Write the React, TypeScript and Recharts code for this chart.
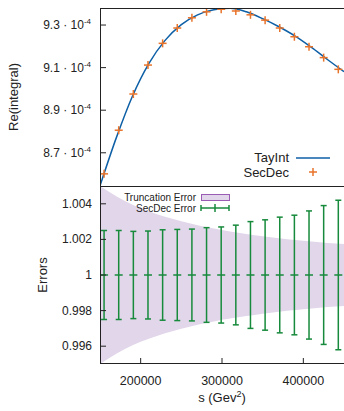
import { ComposedChart, Line, Scatter, Area, XAxis, YAxis, ErrorBar } from "recharts";

const FONT = "'Liberation Sans', Arial, Helvetica, sans-serif";
const INK = "#222";

// SecDec points (s in GeV^2, Re(integral))
const secS = [155000, 173000, 191000, 209000, 227000, 245000, 263000, 281000, 299000, 317000, 335000, 353000, 371000, 389000, 407000, 425000, 443000];
const secRe = [8.601e-4, 8.806e-4, 8.976e-4, 9.112e-4, 9.214e-4, 9.286e-4, 9.334e-4, 9.362e-4, 9.374e-4, 9.366e-4, 9.348e-4, 9.323e-4, 9.286e-4, 9.245e-4, 9.198e-4, 9.147e-4, 9.092e-4];
const secErr = [0.0025, 0.0025, 0.00245, 0.00247, 0.00254, 0.00256, 0.00258, 0.00266, 0.0027, 0.0028, 0.003, 0.0031, 0.00325, 0.00336, 0.0036, 0.0039, 0.0042];

// TayInt curve
const tayS = [150000, 170000, 190000, 210000, 230000, 250000, 270000, 290000, 310000, 330000, 350000, 370000, 390000, 410000, 430000, 450000];
const tayRe = [8.545e-4, 8.77e-4, 8.967e-4, 9.119e-4, 9.228e-4, 9.302e-4, 9.348e-4, 9.372e-4, 9.379e-4, 9.362e-4, 9.33e-4, 9.292e-4, 9.248e-4, 9.195e-4, 9.137e-4, 9.081e-4];

// truncation error band (relative half width)
const truncS = [150000, 170000, 190000, 210000, 230000, 250000, 270000, 290000, 310000, 330000, 350000, 370000, 390000, 410000, 430000, 450000];
const truncErr = [0.005, 0.00443, 0.00395, 0.00358, 0.00327, 0.00302, 0.0028, 0.00261, 0.00245, 0.00231, 0.00218, 0.00207, 0.00197, 0.00188, 0.0018, 0.00174];

const xDomain = [150000, 450000];
const topXTicks = [200000, 250000, 300000, 350000, 400000];
const botXTicks = [200000, 300000, 400000];
const topYTicks = [8.7e-4, 8.9e-4, 9.1e-4, 9.3e-4];
const botYTicks = [0.996, 0.998, 1, 1.002, 1.004];

const tayData = tayS.map((s, i) => ({ s, y: tayRe[i] }));
const secData = secS.map((s, i) => ({ s, y: secRe[i] }));
const errData = secS.map((s, i) => ({ s, y: 1, err: secErr[i] }));
const bandData = truncS.map((s, i) => ({ s, band: [1 - truncErr[i], 1 + truncErr[i]] }));

const GREEN = "#178a3c";
const ORANGE = "#e8732a";
const BLUE = "#0d5fa6";
const BAND = "#e2d6ea";

// ticks point into the plot; dir=-1 draws upward
const XTick = (props: any) => {
  const { x, y, payload, dir, len, showLabel } = props;
  return (
    <g>
      <line x1={x} x2={x} y1={y} y2={y + dir * len} stroke={INK} strokeWidth={1} />
      {showLabel && (
        <text x={x} y={y + 21} textAnchor="middle" fontSize={12.5} fill={INK} fontFamily={FONT}>
          {payload.value}
        </text>
      )}
    </g>
  );
};

const YTick = (props: any) => {
  const { x, y, payload, dir, len, kind } = props;
  let label: any = null;
  if (kind === "sci") {
    label = (
      <text x={x - 9} y={y + 4} textAnchor="end" fontSize={12} fill={INK} fontFamily={FONT}>
        {(payload.value * 1e4).toFixed(1)} · 10
        <tspan dy={-5} fontSize={8}>-4</tspan>
      </text>
    );
  } else if (kind === "plain") {
    label = (
      <text x={x - 8} y={y + 4} textAnchor="end" fontSize={12} fill={INK} fontFamily={FONT}>
        {String(Math.round(payload.value * 1000) / 1000)}
      </text>
    );
  }
  return (
    <g>
      <line x1={x} x2={x + dir * len} y1={y} y2={y} stroke={INK} strokeWidth={1} />
      {label}
    </g>
  );
};

const Plus = (props: any) => {
  const { cx, cy } = props;
  return (
    <g stroke={ORANGE} strokeWidth={1.5}>
      <line x1={cx - 4} x2={cx + 4} y1={cy} y2={cy} />
      <line x1={cx} x2={cx} y1={cy - 4} y2={cy + 4} />
    </g>
  );
};

const CenterTick = (props: any) => {
  const { cx, cy } = props;
  return <line x1={cx - 4} x2={cx + 4} y1={cy} y2={cy} stroke={GREEN} strokeWidth={1.5} />;
};

export default function App() {
  return (
    <div style={{ position: "absolute", left: 0, top: 0, width: 344, height: 411, overflow: "hidden", background: "#fff" }}>
      <div style={{ position: "absolute", left: 0, top: 0 }}>
        <ComposedChart width={346} height={186} data={tayData} margin={{ top: 8, right: 2, bottom: 0, left: 0 }}>
          <Line xAxisId="b" yAxisId="l" type="monotone" dataKey="y" stroke={BLUE} strokeWidth={1.5} dot={false} isAnimationActive={false} />
          <Scatter xAxisId="b" yAxisId="l" data={secData} dataKey="y" shape={<Plus />} isAnimationActive={false} />
          <XAxis xAxisId="b" type="number" dataKey="s" domain={xDomain} allowDataOverflow ticks={topXTicks} interval={0} height={0} tickSize={0} tickMargin={0} axisLine={false} tickLine={false} tick={<XTick dir={-1} len={6} />} />
          <XAxis xAxisId="t" orientation="top" type="number" dataKey="s" domain={xDomain} allowDataOverflow ticks={topXTicks} interval={0} height={0} tickSize={0} tickMargin={0} axisLine={false} tickLine={false} tick={<XTick dir={1} len={6} />} />
          <YAxis yAxisId="l" type="number" domain={[8.544e-4, 9.38e-4]} allowDataOverflow ticks={topYTicks} interval={0} width={100} tickSize={0} tickMargin={0} axisLine={false} tickLine={false} tick={<YTick dir={1} len={6} kind="sci" />} />
          <YAxis yAxisId="r" orientation="right" type="number" domain={[8.544e-4, 9.38e-4]} allowDataOverflow ticks={topYTicks} interval={0} width={0} tickSize={0} tickMargin={0} axisLine={false} tickLine={false} tick={<YTick dir={-1} len={6} kind="none" />} />
        </ComposedChart>
      </div>
      <div style={{ position: "absolute", left: 0, top: 186 }}>
        <ComposedChart width={346} height={225} data={bandData} margin={{ top: 0, right: 2, bottom: 0, left: 0 }}>
          <Area xAxisId="b" yAxisId="l" type="monotone" dataKey="band" stroke="none" fill={BAND} fillOpacity={1} isAnimationActive={false} />
          <Scatter xAxisId="b" yAxisId="l" data={errData} dataKey="y" shape={<CenterTick />} isAnimationActive={false}>
            <ErrorBar dataKey="err" direction="y" width={3} stroke={GREEN} strokeWidth={1.5} />
          </Scatter>
          <XAxis xAxisId="b" type="number" dataKey="s" domain={xDomain} allowDataOverflow ticks={botXTicks} interval={0} height={47} tickSize={0} tickMargin={0} axisLine={false} tickLine={false} tick={<XTick dir={-1} len={6} showLabel />} />
          <XAxis xAxisId="t" orientation="top" type="number" dataKey="s" domain={xDomain} allowDataOverflow ticks={botXTicks} interval={0} height={0} tickSize={0} tickMargin={0} axisLine={false} tickLine={false} tick={<XTick dir={1} len={6} />} />
          <YAxis yAxisId="l" type="number" domain={[0.995, 1.005]} allowDataOverflow ticks={botYTicks} interval={0} width={100} tickSize={0} tickMargin={0} axisLine={false} tickLine={false} tick={<YTick dir={1} len={6} kind="plain" />} />
          <YAxis yAxisId="r" orientation="right" type="number" domain={[0.995, 1.005]} allowDataOverflow ticks={botYTicks} interval={0} width={0} tickSize={0} tickMargin={0} axisLine={false} tickLine={false} tick={<YTick dir={-1} len={6} kind="none" />} />
        </ComposedChart>
      </div>
      <svg width={344} height={411} style={{ position: "absolute", left: 0, top: 0, pointerEvents: "none" }} fontFamily={FONT}>
        <rect x={100.5} y={8.5} width={244} height={355} fill="none" stroke={INK} strokeWidth={1} />
        <line x1={100} x2={344} y1={186.5} y2={186.5} stroke={INK} strokeWidth={1} />
        <text transform="translate(17.5,97) rotate(-90)" textAnchor="middle" fontSize={13} fill={INK}>Re(integral)</text>
        <text transform="translate(47,275) rotate(-90)" textAnchor="middle" fontSize={13} fill={INK}>Errors</text>
        <text x={222} y={402} textAnchor="middle" fontSize={13} fill={INK}>
          s (Gev<tspan dy={-5} fontSize={9}>2</tspan><tspan dy={5}>)</tspan>
        </text>
        <text x={289} y={162} textAnchor="end" fontSize={13} fill={INK}>TayInt</text>
        <line x1={296} x2={330} y1={158} y2={158} stroke={BLUE} strokeWidth={1.5} />
        <text x={289} y={177} textAnchor="end" fontSize={13} fill={INK}>SecDec</text>
        <g stroke={ORANGE} strokeWidth={1.5}>
          <line x1={309} x2={317} y1={172} y2={172} />
          <line x1={313} x2={313} y1={168} y2={176} />
        </g>
        <text x={196} y={200.5} textAnchor="end" fontSize={10} fill={INK}>Truncation Error</text>
        <rect x={201.5} y={194.5} width={28} height={6} fill={BAND} stroke="#9a5cb4" strokeWidth={1} />
        <text x={196} y={211.5} textAnchor="end" fontSize={10} fill={INK}>SecDec Error</text>
        <g stroke={GREEN} strokeWidth={1.5}>
          <line x1={201} x2={229} y1={208} y2={208} />
          <line x1={201} x2={201} y1={205} y2={211} />
          <line x1={229} x2={229} y1={205} y2={211} />
          <line x1={215} x2={215} y1={204} y2={212} />
        </g>
      </svg>
    </div>
  );
}
